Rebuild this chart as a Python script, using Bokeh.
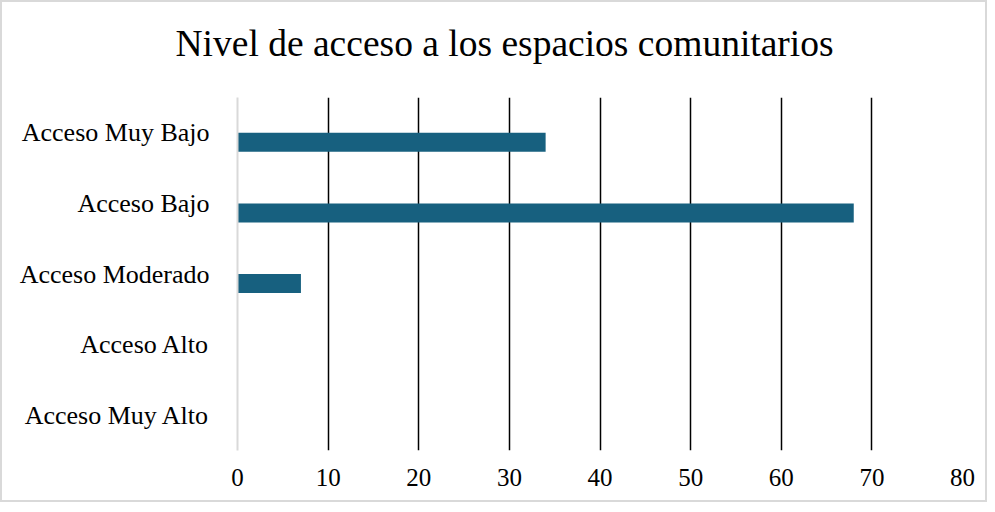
from bokeh.plotting import figure
from bokeh.models import FactorRange, Range1d, FixedTicker, ColumnDataSource, Title
from bokeh.transform import dodge
from bokeh.embed import file_html
from bokeh.resources import INLINE

title_text = "Nivel de acceso a los espacios comunitarios"
categories = ["Acceso Muy Bajo", "Acceso Bajo", "Acceso Moderado", "Acceso Alto", "Acceso Muy Alto"]
values = [34, 68, 7, 0, 0]
x_ticks = [0, 10, 20, 30, 40, 50, 60, 70, 80]

FONT = "Liberation Serif"
BAR_COLOR = "#17607F"

source = ColumnDataSource(data=dict(cat=categories, val=values))

p = figure(
    width=987, height=502,
    y_range=FactorRange(factors=list(reversed(categories))),
    x_range=Range1d(0, 80),
    output_backend="svg", toolbar_location=None,
)
p.title = None
p.min_border_left = 235
p.min_border_right = 27
p.min_border_top = 95
p.min_border_bottom = 54
p.outline_line_color = None
p.background_fill_color = "white"
p.border_fill_color = "white"
p.styles = {"border": "2px solid #d9d9d9", "box-sizing": "border-box"}

# spacer between the title and the plot area (first "above" panel sits next to the frame)
spacer = Title(text="\u00a0", text_font=FONT, text_font_size="10px", standoff=16,
               text_color="white")
p.add_layout(spacer, "above")

t = Title(text=title_text, align="left", offset=-62, standoff=10,
          text_font=FONT, text_font_size="37.5px", text_font_style="normal",
          text_color="#000000")
p.add_layout(t, "above")

p.hbar(y=dodge("cat", -0.135, range=p.y_range), right="val", left=0, height=0.27,
       source=source, fill_color=BAR_COLOR, line_color=None)

# x axis
p.xaxis.ticker = FixedTicker(ticks=x_ticks)
p.xaxis.axis_line_color = None
p.xaxis.major_tick_line_color = None
p.xaxis.minor_tick_line_color = None
p.xaxis.major_label_text_font = FONT
p.xaxis.major_label_text_font_size = "25px"
p.xaxis.major_label_text_color = "#000000"
p.xaxis.major_label_standoff = 12

# y axis
p.yaxis.axis_line_color = "#d9d9d9"
p.yaxis.axis_line_width = 2
p.yaxis.major_tick_line_color = None
p.yaxis.minor_tick_line_color = None
p.yaxis.major_label_text_font = FONT
p.yaxis.major_label_text_font_size = "26px"
p.yaxis.major_label_text_color = "#000000"
p.yaxis.major_label_standoff = 22

# grid
p.xgrid.ticker = FixedTicker(ticks=x_ticks[1:])
p.xgrid.grid_line_color = "#000000"
p.xgrid.grid_line_width = 1.5
p.ygrid.grid_line_color = None

open("out.html", "w").write(file_html(p, INLINE))
